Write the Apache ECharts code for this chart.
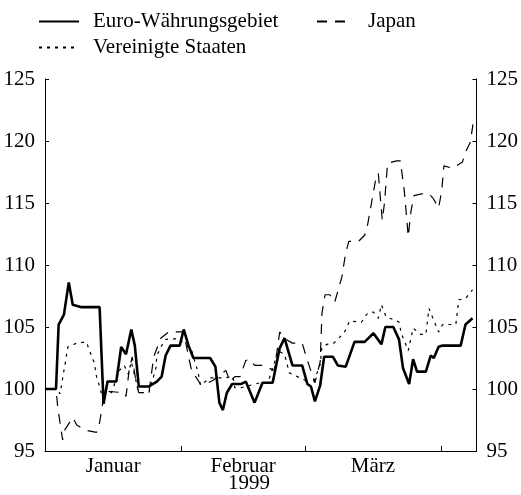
<!DOCTYPE html>
<html>
<head>
<meta charset="utf-8">
<script src="https://cdn.jsdelivr.net/npm/echarts@6/dist/echarts.min.js"></script>
<style>html,body{margin:0;padding:0;background:#fff}#c{width:521px;height:495px}</style>
</head>
<body>
<div id="c"></div>
<script>
// Days counted from 1 January 1999 (day 0)
const euroDays   = [0,2.5,3.1,4.3,5.4,6.3,8.3,12.4,13.3,14.2,16.2,17.3,18.4,19.6,20.4,21.3,23.6,25.4,26.5,27.4,28.5,30.6,31.5,32.6,33.7,37.5,38.7,39.6,40.4,41.3,42.5,44.5,45.6,47.6,49.4,51.7,53.3,54.4,56.2,58.4,59.6,60.4,61.3,62.5,63.4,65.4,66.5,68.3,70.3,72.6,74.6,76.4,77.3,79.1,80.4,81.3,82.7,83.6,84.5,86.5,87.6,88.3,89.4,90.3,94.4,95.5,97.1];
const euroValues = [100,100,105.2,106,108.6,106.8,106.6,106.6,98.8,100.6,100.6,103.4,102.8,104.8,103.5,100.2,100.2,100.6,101,102.7,103.5,103.5,104.8,103.5,102.5,102.5,101.8,98.9,98.3,99.7,100.4,100.4,100.6,98.9,100.5,100.5,103.3,104.1,101.9,101.9,100.4,100.2,99,100.3,102.6,102.6,101.9,101.8,103.8,103.8,104.5,103.6,105,105,104,101.7,100.4,102.4,101.4,101.4,102.7,102.5,103.4,103.5,103.5,105.2,105.7];

const japanDays   = [0,2.5,2.9,4.0,4.5,6.3,7.2,9.0,11.7,12.4,13.5,14.6,18.0,18.4,19.1,19.8,20.7,21.3,23.6,24.7,26.3,28.1,29.9,31.5,32.6,33.3,35.3,36.4,38.2,41.1,42.0,43.1,44.3,45.6,46.5,47.6,49.4,52.1,53.3,54.7,56.2,58.4,59.6,61.3,62.5,62.9,63.6,64.7,65.8,67.4,68.3,69.0,71.2,72.6,73.3,74.2,75.1,75.7,76.6,77.1,77.8,79.8,80.7,81.6,82.5,83.1,83.8,86.3,87.6,88.1,89.4,90.1,90.6,92.6,94.8,95.5,96.6,97.3];
const japanValues = [100,100,98.5,95.9,96.7,97.7,97.1,96.7,96.5,97.3,99.7,99.8,99.7,99.4,101.5,102.6,100.5,99.7,99.7,102.6,104.1,104.6,104.6,104.6,102.6,101.5,100.4,100.4,100.7,101.5,100.6,101,101,102.3,102.4,101.9,101.9,101.5,104.6,104,103.7,103.7,102.3,100.5,102.2,106.1,107.6,107.6,107,109,111,111.9,111.9,112.4,113.3,115.1,116.9,117.4,113.6,115,118.2,118.4,118.4,116,112.3,114.3,115.6,115.8,115.6,115.4,114.6,116,118,117.8,118.3,119.1,119.9,121.6];

const usDays   = [0,2.9,3.4,4.5,5.2,7.2,9.4,10.1,11.2,11.7,12.4,13.0,13.9,15.1,16.9,18.0,18.9,19.6,20.7,21.3,23.6,24.0,25.2,25.4,26.5,27.4,28.8,30.3,32.1,33.3,33.7,34.8,35.3,37.5,40.9,42.7,43.1,44.5,48.8,50.6,52.1,52.8,54.4,55.5,57.3,59.1,60.2,61.3,62.5,62.9,64.7,65.6,67.0,67.9,69.2,71.2,71.9,73.0,73.7,74.6,75.7,76.4,77.5,79.1,80.4,80.9,82.5,83.6,85.4,86.5,87.2,88.1,89.4,90.3,93.3,94.0,95.5,97.1];
const usValues = [100,100,99.6,101.9,103.4,103.7,103.8,103.1,102.1,101,100.2,99.4,99.7,99.7,101.5,101.9,101.2,102.2,100.6,99.7,99.7,100.2,101.7,102.7,103.5,104,104,104.1,103.5,103.1,102.6,101.3,100.3,100.9,100.9,101,100.1,100.1,100.5,100.5,102.1,103.1,102.8,101.3,101,100.7,100.2,100.8,102,103.4,103.7,103.7,104.2,104.5,105.5,105.4,105.4,106,106.2,106.2,105.7,106.8,105.8,105.6,105.4,104.5,103.1,104.9,104.4,104.4,106.5,105.7,104.6,105.2,105.2,107.2,107.3,108];

const seriesNames = ['Euro-Währungsgebiet', 'Japan', 'Vereinigte Staaten'];
const monthLabels = ['Januar', 'Februar', 'März'];
const monthTickDays = [31, 59, 90];
const monthLabelDays = [15.5, 45, 74.5];
const yearLabel = '1999';
const yTicks = [95, 100, 105, 110, 115, 120, 125];

const zip = (xs, ys) => xs.map((x, i) => [x, ys[i]]);
const FONT = 'Liberation Serif';
const txt = {fontFamily: FONT, fontSize: 21, color: '#000'};

const yAxisBase = {
  type: 'value', min: yTicks[0], max: yTicks[yTicks.length - 1], interval: 5,
  axisLine: {show: true, lineStyle: {color: '#000', width: 1}},
  axisTick: {show: true, inside: true, length: 4, lineStyle: {color: '#000'}},
  splitLine: {show: false},
  axisLabel: Object.assign({margin: 10}, txt)
};

const legendCommon = {
  itemHeight: 14,
  itemStyle: {opacity: 0, borderWidth: 0},
  selectedMode: false
};

const chart = echarts.init(document.getElementById('c'), null, {renderer: 'canvas'});
chart.setOption({
  animation: false,
  backgroundColor: '#fff',
  grid: {left: 45, right: 40, top: 79, bottom: 44, containLabel: false},
  legend: [
    Object.assign({data: [seriesNames[0]], left: 33, top: 6, itemWidth: 40, textStyle: Object.assign({padding: [0,0,0,9]}, txt)}, legendCommon),
    Object.assign({data: [seriesNames[1]], left: 311, top: 6, itemWidth: 34, textStyle: Object.assign({padding: [0,0,0,12]}, txt)}, legendCommon),
    Object.assign({data: [seriesNames[2]], left: 33, top: 32, itemWidth: 38, textStyle: Object.assign({padding: [0,0,0,11]}, txt)}, legendCommon)
  ],
  xAxis: {
    type: 'value', min: 0, max: 98,
    axisLine: {show: true, lineStyle: {color: '#000', width: 1}},
    axisTick: {show: true, inside: true, length: 5, customValues: monthTickDays, lineStyle: {color: '#000'}},
    axisLabel: Object.assign({margin: 5, customValues: monthLabelDays,
      formatter: v => monthLabels[monthLabelDays.indexOf(v)] || ''}, txt),
    splitLine: {show: false}
  },
  yAxis: [
    Object.assign({position: 'left'}, yAxisBase),
    Object.assign({position: 'right'}, yAxisBase)
  ],
  graphic: [{
    type: 'text', left: 228, top: 473,
    style: {text: yearLabel, font: '21px "Liberation Serif"', fill: '#000'}
  }],
  series: [
    {name: seriesNames[0], type: 'line', data: zip(euroDays, euroValues), symbol: 'none',
     lineStyle: {color: '#000', width: 2.6, type: 'solid'}, itemStyle: {color: '#000'}, z: 3},
    {name: seriesNames[1], type: 'line', data: zip(japanDays, japanValues), symbol: 'none',
     lineStyle: {color: '#000', width: 1.2, type: [10, 8]}, itemStyle: {color: '#000'}},
    {name: seriesNames[2], type: 'line', data: zip(usDays, usValues), symbol: 'none',
     lineStyle: {color: '#000', width: 1.2, type: [3, 5]}, itemStyle: {color: '#000'}}
  ]
});
</script>
</body>
</html>
